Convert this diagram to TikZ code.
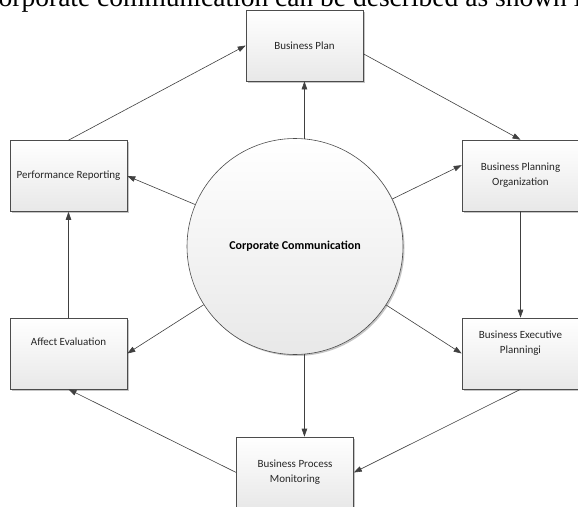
\documentclass[tikz,border=0pt]{standalone}
\usepackage{fontspec}
\setmainfont{Carlito}
\newfontfamily\paperfont{Liberation Serif}
\usetikzlibrary{arrows.meta,shadows}
\tikzset{
  boxshadow/.style={drop shadow={shadow xshift=1.5pt, shadow yshift=-1.5pt, fill=black!45, opacity=0.5}},
  stagebox/.style={draw=black!70, line width=0.6pt, minimum width=117pt, minimum height=71pt,
    align=center, top color=white, bottom color=black!9, boxshadow,
    font=\fontsize{11}{15}\selectfont, text=black!85},
  hub/.style={circle, draw=black!70, line width=0.6pt, minimum size=216pt, inner sep=0pt,
    top color=white, bottom color=black!9, boxshadow,
    font=\bfseries\fontsize{12}{14}\selectfont},
  flow/.style={draw=black!75, line width=0.6pt, -{Triangle[length=8pt,width=5.5pt]}}
}
\begin{document}
\begin{tikzpicture}[x=1pt, y=-1pt]
  \useasboundingbox (0,0) rectangle (578,506);
  \clip (0,0) rectangle (578,506);
  \fill[white] (0,0) rectangle (578,506);
  % line of the paper above the figure, cut at the top
  \node[anchor=base west, inner sep=0pt, font=\paperfont\fontsize{27.5}{30}\selectfont] (papertext) at (-13.7,6.5)
    {corporate communication can be described as shown in};
  % centre and stages
  \node[hub] (cc) at (295,246.5) {Corporate Communication};
  \node[stagebox] (bp) at (304.5,45.5) {Business Plan};
  \node[stagebox] (bpo) at (520.5,175.5) {Business Planning\\Organization};
  \node[stagebox] (bep) at (520.5,353.5) {Business Executive\\Planningi\\[8pt]};
  \node[stagebox] (bpm) at (295,472.5) {Business Process\\Monitoring};
  \node[stagebox] (ae) at (68.5,353.5) {Affect Evaluation\\[8pt]};
  \node[stagebox] (pr) at (68.5,176) {Performance Reporting};
  % from the centre
  \draw[flow] (cc.85) -- (cc.85 |- bp.south);
  \draw[flow] (cc) -- (bpo.170);
  \draw[flow] (cc) -- (bep.west);
  \draw[flow] (cc.-85) -- (cc.-85 |- bpm.north);
  \draw[flow] (cc) -- (ae.east);
  \draw[flow] (cc) -- (pr.east);
  % cycle
  \draw[flow] (pr.north) -- (bp.west);
  \draw[flow] (bp.-8) -- (bpo.north);
  \draw[flow] (bpo.south) -- (bep.north);
  \draw[flow] (bep.south) -- (bpm.east);
  \draw[flow] (bpm.west) -- (ae.south);
  \draw[flow] (ae.north) -- (pr.south);
\end{tikzpicture}
\end{document}
